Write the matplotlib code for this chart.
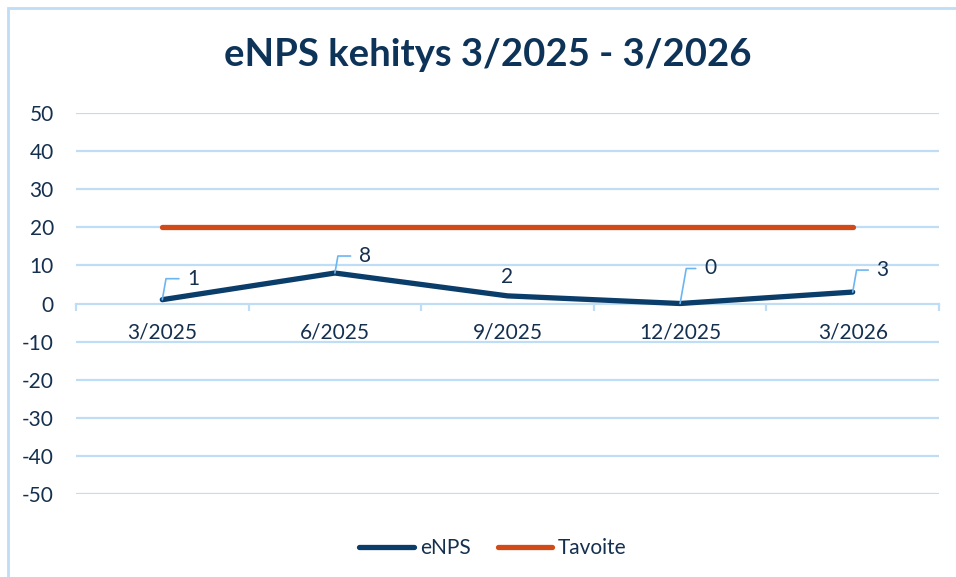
import matplotlib
matplotlib.use("Agg")
import matplotlib.pyplot as plt
from matplotlib.patches import Rectangle

categories = ["3/2025", "6/2025", "9/2025", "12/2025", "3/2026"]
enps = [1, 8, 2, 0, 3]
tavoite = [20, 20, 20, 20, 20]
yticks = [-50, -40, -30, -20, -10, 0, 10, 20, 30, 40, 50]
title = "eNPS kehitys 3/2025 - 3/2026"

navy = "#0B3D6B"
orange = "#D24A17"
text_c = "#15304F"
title_c = "#0D3358"
grid_c = "#BFDDF5"
leader_c = "#6BB6F2"

plt.rcParams['font.family'] = ['Lato', 'DejaVu Sans']

W, H = 956, 577
fig = plt.figure(figsize=(W / 100, H / 100), dpi=100)
fig.patches.append(Rectangle((8 / W, -0.1), 1.2, 1.1 - 8 / H, transform=fig.transFigure,
                             fill=False, edgecolor=grid_c, lw=2, zorder=0))

ax = fig.add_axes([76 / W, 1 - 494 / H, (939 - 76) / W, (494 - 113) / H])
x = list(range(len(categories)))

ax.set_xlim(-0.5, len(categories) - 0.5)
ax.set_ylim(-50, 50)
ax.set_yticks(yticks)
ax.set_yticklabels([str(v) for v in yticks])
for v in yticks:
    if v != 0:
        ax.axhline(v, color=grid_c, lw=1.6, zorder=1)

for s in ['top', 'right', 'left']:
    ax.spines[s].set_visible(False)
ax.spines['bottom'].set_position(('data', 0))
ax.spines['bottom'].set_color(grid_c)
ax.spines['bottom'].set_linewidth(1.6)
ax.spines['bottom'].set_zorder(1)

ax.set_xticks(x)
ax.set_xticklabels(categories)
ax.set_xticks([i - 0.5 for i in range(len(categories) + 1)], minor=True)
ax.tick_params(axis='x', which='major', length=0, pad=14, labelsize=15, labelcolor=text_c)
ax.tick_params(axis='x', which='minor', length=5, width=1.6, color=grid_c, direction='out')
ax.tick_params(axis='y', length=0, pad=16, labelsize=15, labelcolor=text_c)

ax.plot(x, tavoite, color=orange, lw=3.8, solid_capstyle='round', zorder=3, label="Tavoite")
ax.plot(x, enps, color=navy, lw=3.8, solid_capstyle='round', solid_joinstyle='round', zorder=4, label="eNPS")

offsets = [(31, 21), (30, 17), (0, 19), (30, 35), (30, 22)]
for i, (v, off) in enumerate(zip(enps, offsets)):
    if off[0] == 0:
        ax.annotate(str(v), (i, v), xytext=off, textcoords='offset pixels',
                    ha='center', va='center', fontsize=15, color=text_c, zorder=6)
    else:
        ax.annotate(str(v), (i, v), xytext=off, textcoords='offset pixels',
                    ha='center', va='center', fontsize=15, color=text_c, zorder=6,
                    arrowprops=dict(arrowstyle='-', color=leader_c, lw=1.2,
                                    connectionstyle='angle,angleA=0,angleB=80,rad=0',
                                    relpos=(0, 0.5), shrinkA=4, shrinkB=0))

fig.text(488 / W, 1 - 55 / H, title, ha='center', va='center', fontsize=27.5,
         fontweight='bold', color=title_c)

h, l = ax.get_legend_handles_labels()
leg = fig.legend(h[::-1], l[::-1], loc='center', bbox_to_anchor=(493 / W, 1 - 548 / H), ncol=2,
                 frameon=False, fontsize=15, handlelength=2.6, columnspacing=1.3,
                 handletextpad=0.3)
for t in leg.get_texts():
    t.set_color(text_c)

fig.savefig("out.png", dpi=100)
